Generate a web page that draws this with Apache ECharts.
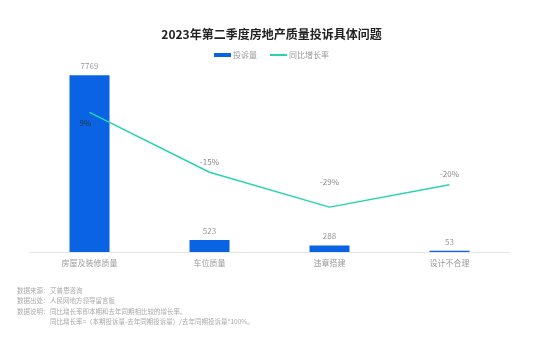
<!DOCTYPE html>
<html><head><meta charset="utf-8">
<script src="https://cdn.jsdelivr.net/npm/echarts@6/dist/echarts.min.js"></script>
<style>html,body{margin:0;padding:0;background:#fff}#c{width:543px;height:340px}</style>
</head><body><div id="c"></div>
<script>
var categories = ['房屋及装修质量', '车位质量', '违章搭建', '设计不合理'];
var complaints = [7769, 523, 288, 53];
var growthRate = [9, -15, -29, -20];
var notes = [
  ['数据来源：', '艾普思咨询'],
  ['数据出处：', '人民网地方领导留言板'],
  ['数据说明：', '同比增长率即本期和去年同期相比较的增长率。'],
  ['', '同比增长率=（本期投诉量-去年同期投诉量）/去年同期投诉量*100%。']
];
var lineLabelOffsets = [[-4, 22], [0, 1], [0, -14], [0, 0]];
var font = '"Noto Sans CJK SC", "Noto Sans", sans-serif';
var chart = echarts.init(document.getElementById('c'), null, {renderer: 'canvas'});
var graphics = [];
notes.forEach(function (n, i) {
  var y = 287 + i * 10.5;
  if (n[0]) graphics.push({type: 'text', left: 17, top: y, style: {text: n[0], fill: '#aaa', font: '6.5px ' + font}});
  graphics.push({type: 'text', left: 50, top: y, style: {text: n[1], fill: '#aaa', font: '6.5px ' + font}});
});
chart.setOption({
  animation: false,
  textStyle: {fontFamily: font},
  title: {text: '2023年第二季度房地产质量投诉具体问题', left: 'center', top: 23,
    textStyle: {fontSize: 12, fontWeight: 'bold', color: '#222', fontFamily: font}},
  legend: {top: 46, left: 'center', itemWidth: 17, itemHeight: 4, itemGap: 12,
    textStyle: {fontSize: 8, color: '#999', padding: [0, 0, 0, -3]},
    data: [{name: '投诉量', icon: 'rect'}, {name: '同比增长率'}]},
  grid: {left: 29.5, right: 33.5, top: 70, bottom: 88, containLabel: false},
  xAxis: {type: 'category', data: categories,
    axisLine: {lineStyle: {color: '#e6e6e6'}}, axisTick: {show: false},
    axisLabel: {color: '#999', fontSize: 8, margin: 7}},
  yAxis: [
    {type: 'value', min: 0, max: 8000, show: false, splitLine: {show: false}},
    {type: 'value', min: -47, max: 26, show: false, splitLine: {show: false}}
  ],
  series: [
    {name: '投诉量', type: 'bar', data: complaints, barWidth: 40,
      itemStyle: {color: '#0A63E2'},
      label: {show: true, position: 'top', distance: 5, color: '#999', fontSize: 8}},
    {name: '同比增长率', type: 'line', yAxisIndex: 1,
      data: growthRate.map(function (v, i) {
        return {value: v, label: {offset: lineLabelOffsets[i], color: i === 0 ? '#234' : '#888'}};
      }),
      symbol: 'circle', symbolSize: 2, showSymbol: true,
      lineStyle: {color: '#26D4B0', width: 1.5},
      itemStyle: {color: 'rgba(0,0,0,0)', borderWidth: 0},
      label: {show: true, position: 'top', distance: 6, fontSize: 8, color: '#888',
        formatter: function (p) { return p.value + '%'; }}}
  ],
  graphic: graphics
});
</script></body></html>
